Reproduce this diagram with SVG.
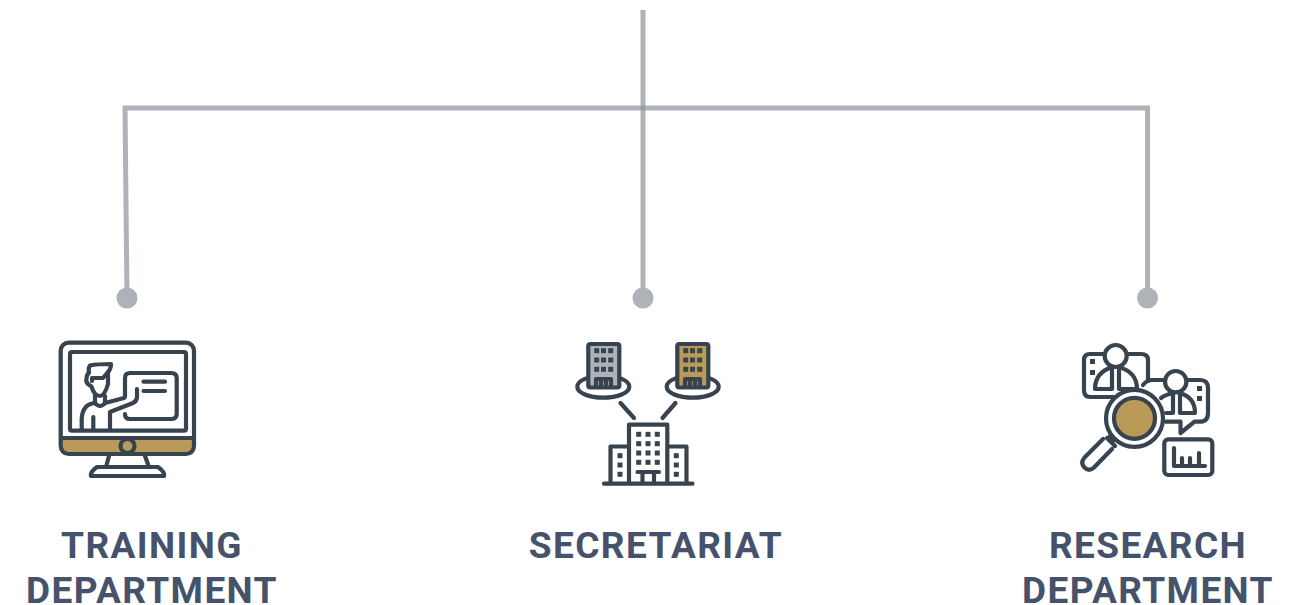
<svg xmlns="http://www.w3.org/2000/svg" width="1308" height="605" viewBox="0 0 1308 605">
<style>
.c{fill:none;stroke:#8d959c;stroke-opacity:.72;stroke-width:5}
.dot{fill:#adb3b8}
.i{fill:none;stroke:#37434f;stroke-width:4.200;stroke-linecap:round;stroke-linejoin:round}
.w{fill:#37434f}
.g{fill:#b99a58}
.t{font-family:Roboto,"Liberation Sans",sans-serif;font-weight:700;font-size:37px;letter-spacing:1.400px;fill:#46526c;text-anchor:middle}
</style>
<rect width="1308" height="605" fill="#fff"/>
<g id="connectors">
<path class="c" d="M643 10V298"/>
<path class="c" d="M127 298L125 108H1147.500V298"/>
<circle class="dot" cx="127" cy="298" r="10.500"/>
<circle class="dot" cx="643" cy="298" r="10.500"/>
<circle class="dot" cx="1147.500" cy="298" r="10.500"/>
</g>
<g id="training">
<path class="g" d="M61 438H194V446Q194 454 186 454H69Q61 454 61 446Z"/>
<rect class="i" x="60.700" y="342.700" width="133.300" height="111.300" rx="8"/>
<rect class="i" x="70" y="352" width="116" height="78.700" rx="2"/>
<path class="i" d="M61 438H194"/>
<circle class="g" cx="127.500" cy="446" r="6"/>
<circle class="i" cx="127.500" cy="446" r="7"/>
<path class="i" d="M109 456L106 467M145 456L149 467M97 467H158Q165 472 164 476H91Q90 472 97 467Z"/>
<path class="i" d="M90 365.500Q97 364 111 364Q111 369 108 372V384C106 391 103 396 100 396C96 396 93 392 91.500 386.500Q85 383 86.500 378Q87 374 89 373Q88 368 90 365.500Z"/>
<path class="i" d="M92 381V378H103L108 372"/>
<path class="i" d="M95 395V403Q100 409 105 403V396"/>
<path class="i" d="M95 403Q82.500 404 81.700 419V429M105 403L124 398M110 412L133 403Q137 401 137 397V389M110 412V429M93.300 417V429"/>
<path class="i" d="M125 397V378Q125 373 130 373H171Q176.700 373 176.700 378V414Q176.700 419 171 419H130Q125 419 125 414"/>
<path class="i" d="M143.500 381.700H165M143.500 391H165" stroke-width="3.400"/>
</g>
<g id="secretariat">
<ellipse class="i" cx="603.300" cy="386.700" rx="26" ry="11"/>
<ellipse class="i" cx="692.700" cy="386.700" rx="26" ry="11"/>
<rect x="588.300" y="344" width="31" height="43.500" rx="2" fill="#adb3b8" stroke="#37434f" stroke-width="4.200"/>
<rect x="677.300" y="344" width="31" height="43.500" rx="2" fill="#b99a58" stroke="#37434f" stroke-width="4.200"/>
<g class="w">
<rect x="594.200" y="348.200" width="5" height="5"/><rect x="601" y="348.200" width="5" height="5"/><rect x="608.200" y="348.200" width="5" height="5"/>
<rect x="594.200" y="357.500" width="5" height="5"/><rect x="601" y="357.500" width="5" height="5"/><rect x="608.200" y="357.500" width="5" height="5"/>
<rect x="594.200" y="366.800" width="5" height="5"/><rect x="601" y="366.800" width="5" height="5"/><rect x="608.200" y="366.800" width="5" height="5"/>
<rect x="683.200" y="348.200" width="5" height="5"/><rect x="690" y="348.200" width="5" height="5"/><rect x="697.200" y="348.200" width="5" height="5"/>
<rect x="683.200" y="357.500" width="5" height="5"/><rect x="690" y="357.500" width="5" height="5"/><rect x="697.200" y="357.500" width="5" height="5"/>
<rect x="683.200" y="366.800" width="5" height="5"/><rect x="690" y="366.800" width="5" height="5"/><rect x="697.200" y="366.800" width="5" height="5"/>
<rect x="636.200" y="431.800" width="5" height="5"/><rect x="645.500" y="431.800" width="5" height="5"/><rect x="654.800" y="431.800" width="5" height="5"/>
<rect x="636.200" y="441.200" width="5" height="5"/><rect x="645.500" y="441.200" width="5" height="5"/><rect x="654.800" y="441.200" width="5" height="5"/>
<rect x="636.200" y="450.500" width="5" height="5"/><rect x="645.500" y="450.500" width="5" height="5"/><rect x="654.800" y="450.500" width="5" height="5"/>
<rect x="636.200" y="459.800" width="5" height="5"/><rect x="645.500" y="459.800" width="5" height="5"/><rect x="654.800" y="459.800" width="5" height="5"/>
<rect x="617.500" y="453.200" width="5" height="5"/><rect x="617.500" y="462.500" width="5" height="5"/><rect x="617.500" y="471.800" width="5" height="5"/>
<rect x="673.800" y="453.200" width="5" height="5"/><rect x="673.800" y="462.500" width="5" height="5"/><rect x="673.800" y="471.800" width="5" height="5"/>
</g>
<path class="i" d="M596 387V379H611V387M601 387V380M606 387V380M685 387V379H700V387M690 387V380M695 387V380" stroke-width="2.600"/>
<path class="i" d="M620.500 403L634 418M675.500 403L662.500 418" stroke-linecap="butt" stroke-width="4.600"/>
<path class="i" d="M629 483V424.700H667.300V483M629 446.500H610.500V483M667.300 446.500H686.500V483M604 483.700H692.500" stroke-linecap="butt"/>
<path class="i" d="M637.500 472H659M642.500 472V483M654 472V483" stroke-linecap="butt"/>
</g>
<g id="research">
<path class="i" d="M1103 354H1090Q1084 354 1084 360V390Q1084 397 1090 397H1117M1127 354H1141Q1148 354 1148 360V381"/>
<circle class="i" cx="1115.700" cy="356" r="11"/>
<path class="i" d="M1095 389C1095 378 1100 371 1112 367V389M1137 389C1137 378 1132 371 1119 367V389M1095 389H1112M1119 389H1137"/>
<path class="i" d="M1143 385Q1147 380 1152 380H1165M1187 380H1200Q1208 380 1208 388V413Q1208 421.700 1200 421.700H1194.500L1180.500 433V421.700H1166"/>
<circle class="i" cx="1175.700" cy="381.700" r="10.700"/>
<path class="i" d="M1161 398C1165 395 1169 394 1173 393V413M1195 413C1195 402 1190 396 1180 393V413M1166 413H1173M1180 413H1195"/>
<rect x="1197" y="386" width="5" height="5" class="w"/><rect x="1197" y="396" width="5" height="5" class="w"/>
<rect x="1090" y="359" width="5" height="5" class="w"/><rect x="1090" y="370" width="5" height="5" class="w"/>
<circle cx="1134.500" cy="418.300" r="28.500" fill="#fff" stroke="#37434f" stroke-width="4.200"/>
<circle class="g" cx="1134.500" cy="418.300" r="20"/>
<circle class="i" cx="1134.500" cy="418.300" r="20.500"/>
<path class="i" d="M1107 438L1115 446M1110 436L1114 440M1103 439L1084.500 457.500Q1080 463 1084.500 467.500Q1089 472 1094 467.500L1112 449"/>
<rect class="i" x="1164.300" y="439.300" width="48" height="35.700" rx="4"/>
<path class="i" d="M1174 448V466H1205M1182 458V466M1190 458V466M1199 453V466" stroke-width="3.400"/>
</g>
<text class="t" x="152" y="558">TRAINING</text>
<text class="t" x="152" y="602.500">DEPARTMENT</text>
<text class="t" x="656" y="558">SECRETARIAT</text>
<text class="t" x="1148" y="558">RESEARCH</text>
<text class="t" x="1148" y="602.500">DEPARTMENT</text>
</svg>
